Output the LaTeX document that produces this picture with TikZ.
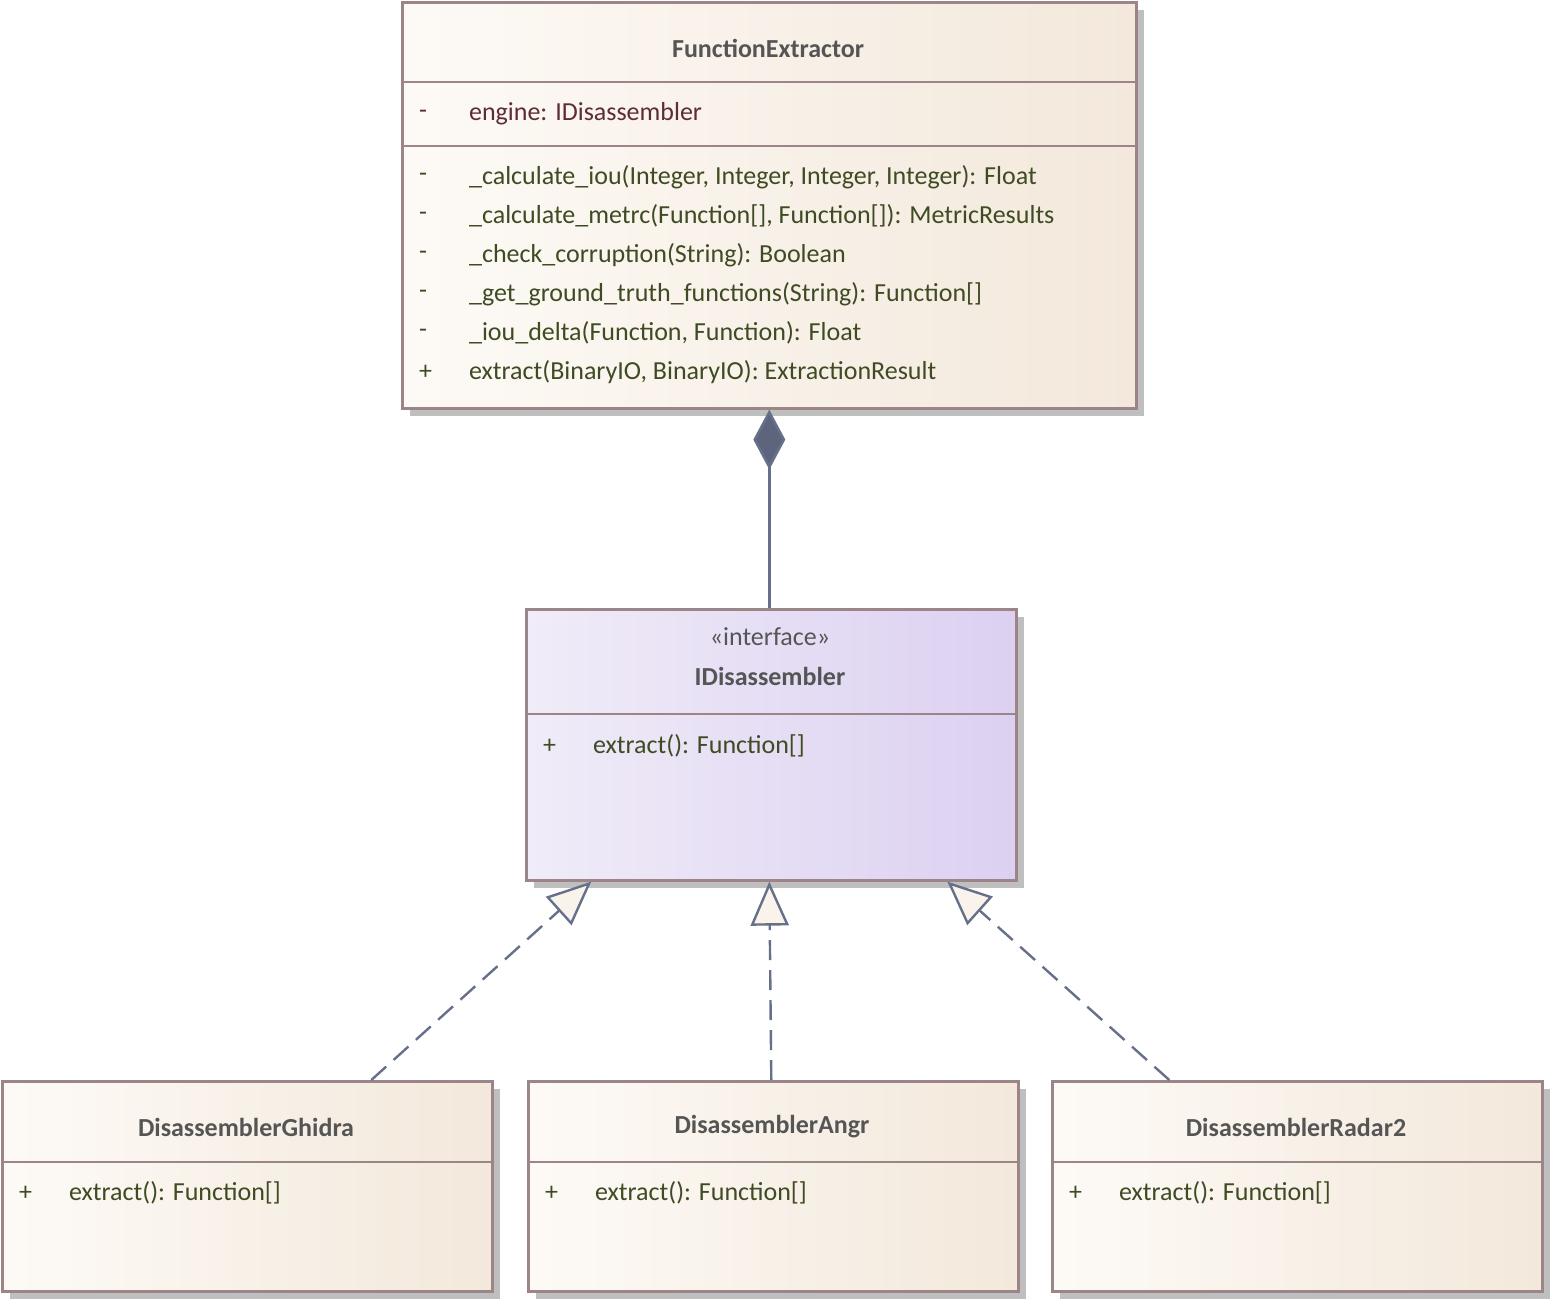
\documentclass[tikz,border=0pt]{standalone}
\usepackage{fontspec}
\setmainfont{Carlito}
\usetikzlibrary{arrows.meta,shadows,calc}
\definecolor{umlborder}{HTML}{9B8588}
\definecolor{umlline}{HTML}{66708A}
\definecolor{umltext}{HTML}{3F4B22}
\definecolor{umlattr}{HTML}{5E2C34}
\definecolor{umltitle}{HTML}{555555}
\definecolor{clsleft}{HTML}{FDFAF6}
\definecolor{clsright}{HTML}{F3E8DB}
\definecolor{ifleft}{HTML}{F0ECF8}
\definecolor{ifright}{HTML}{DCD0F1}
\tikzset{
  cls/.style={draw=umlborder,line width=1.3pt,anchor=north west,left color=clsleft,right color=clsright,
    drop shadow={shadow xshift=4pt,shadow yshift=-4pt,fill=black!25,opacity=1}},
  iface/.style={cls,left color=ifleft,right color=ifright},
  title/.style={font=\fontsize{13}{15}\selectfont\bfseries,text=umltitle},
  member/.style={anchor=west,font=\fontsize{13}{15}\selectfont,text=umltext},
  sep/.style={draw=umlborder,line width=1.3pt},
  real/.style={draw=umlline,line width=1.2pt,dash pattern=on 10pt off 5pt,
    -{Triangle[open,length=22pt,width=19pt,fill=clsleft!60!clsright]}},
}
\begin{document}
\begin{tikzpicture}[x=0.5pt,y=-0.5pt]
  \useasboundingbox (0,0) rectangle (1550,1300);
  % Classes
  \node[cls,minimum width=367pt,minimum height=203pt] (fe) at (401,1) {};
  \node[iface,minimum width=245pt,minimum height=135.5pt] (id) at (525,608) {};
  \node[cls,minimum width=245pt,minimum height=105pt] (g) at (1,1080) {};
  \node[cls,minimum width=245pt,minimum height=105pt] (a) at (527,1080) {};
  \node[cls,minimum width=245pt,minimum height=105pt] (r) at (1051,1080) {};
  % FunctionExtractor
  \node[title] at (768,48) {FunctionExtractor};
  \draw[sep] (401,82) -- (1135,82);
  \draw[sep] (401,146) -- (1135,146);
  \node[member,text=umlattr] at (412,114) {-};
  \node[member,text=umlattr] at (462,114) {engine: IDisassembler};
  \foreach \y/\v/\t in {177/-/{\_calculate\_iou(Integer, Integer, Integer, Integer): Float},
      216/-/{\_calculate\_metrc(Function[], Function[]): MetricResults},
      255/-/{\_check\_corruption(String): Boolean},
      294/-/{\_get\_ground\_truth\_functions(String): Function[]},
      333/-/{\_iou\_delta(Function, Function): Float},
      372/+/{extract(BinaryIO, BinaryIO): ExtractionResult}} {
    \node[member] at (412,\y) {\v};
    \node[member] at (462,\y) {\t};
  }
  % IDisassembler
  \node[member,anchor=center,text=umltitle] at (770,637) {«interface»};
  \node[title] at (770,676) {IDisassembler};
  \draw[sep] (525,714) -- (1015,714);
  \node[member] at (536,746) {+};
  \node[member] at (586,746) {extract(): Function[]};
  % Implementations
  \foreach \n/\x/\t in {g/1/DisassemblerGhidra,a/527/DisassemblerAngr,r/1051/DisassemblerRadar2} {
    \node[title] at (\x+245,1127) {\t};
    \draw[sep] (\x,1162) -- (\x+490,1162);
    \node[member] at (\x+11,1193) {+};
    \node[member] at (\x+61,1193) {extract(): Function[]};
  }
  % Relations
  \draw[umlline,line width=1.3pt,-{Diamond[length=30pt,width=16pt,fill=umlline!90!black]}]
    (id.north -| fe.south) -- (fe.south);
  \draw[real] ([xshift=62pt]g.north) -- ([xshift=-90pt]id.south);
  \draw[real] ([xshift=-1pt]a.north) -- ([xshift=-1pt]id.south);
  \draw[real] ([xshift=-64pt]r.north) -- ([xshift=88pt]id.south);
\end{tikzpicture}
\end{document}
